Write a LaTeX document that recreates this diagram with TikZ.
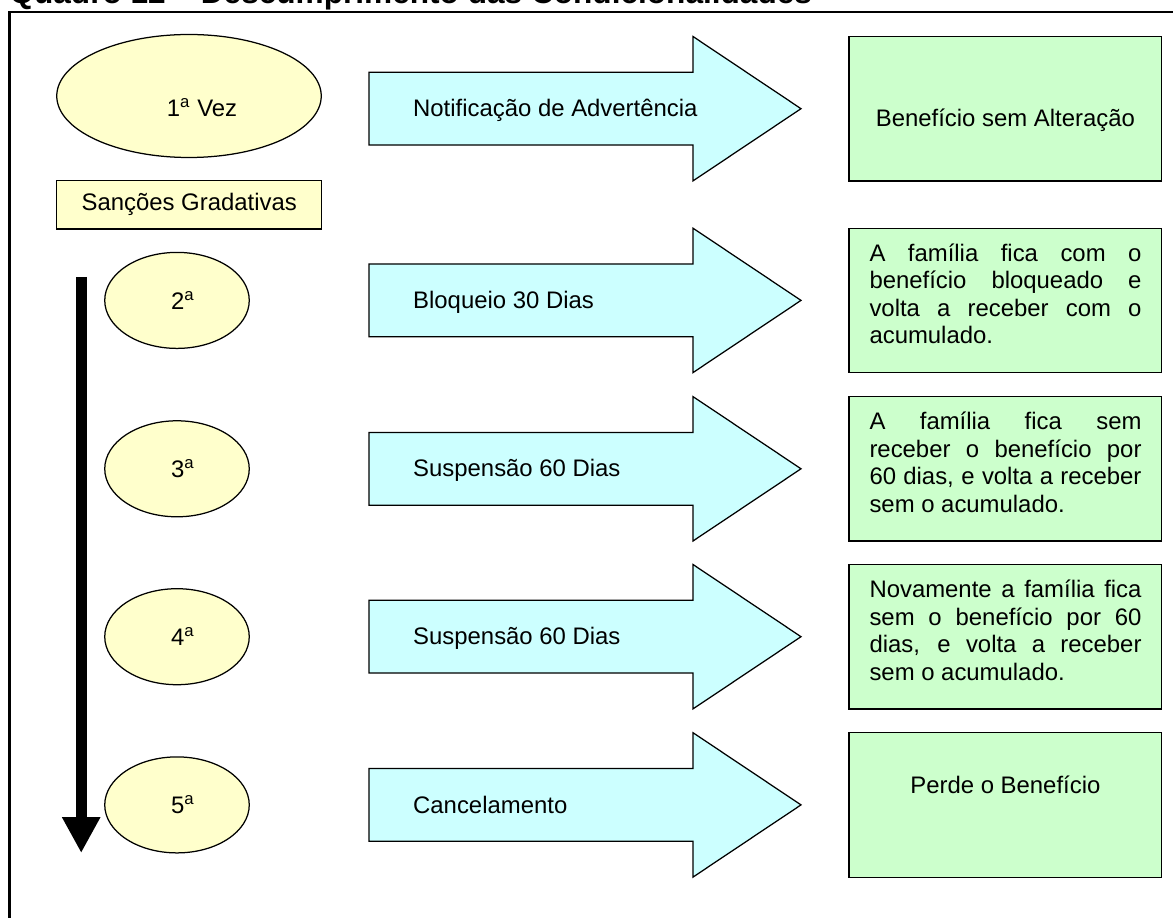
\documentclass[tikz,border=0pt]{standalone}
\usepackage{fontspec}
\setmainfont{Liberation Sans}
\usepackage{xcolor}
\definecolor{Col1}{RGB}{255,255,204}
\definecolor{Col2}{RGB}{204,255,255}
\definecolor{Col3}{RGB}{204,255,204}
\usepackage{tikz}
\usetikzlibrary{shapes.geometric}
\usetikzlibrary{arrows.meta}
\setlength{\parindent}{0pt}
\tolerance=10000
\hbadness=10000
\tikzstyle{Label}=[inner sep=0pt,font=\fontsize{9.56}{11}\selectfont]
\tikzstyle{Oval}=[ellipse,draw=black,fill=Col1,line width=0.5pt,inner sep=0pt]
\tikzstyle{Box}=[rectangle,draw=black,line width=0.5pt,inner sep=0pt]
\tikzstyle{Sign}=[draw=black,fill=Col2,line width=0.5pt,line join=miter]
\tikzstyle{Note}=[Label,text width=108.8pt,align=justify]
\tikzstyle{Frame}=[draw=black,line width=1pt]
\tikzstyle{Title}=[inner sep=0pt,font=\fontsize{12.64}{15}\selectfont\bfseries]
\begin{document}
\begin{tikzpicture}[x=0.4pt,y=-0.4pt]
        \useasboundingbox(0,0)rectangle(1173,918);
        \node[Title,anchor=base west](t)at(9,4){Quadro 12 – Descumprimento das Condicionalidades};
        \draw[Frame](9.7,930)--(9.7,12)--(1185,12);
        % left column
        \node[Oval,minimum width=105.8pt,minimum height=49.2pt,
          label={[Label,xshift=5.2pt,yshift=-4.8pt]center:1\textsuperscript{a} Vez}](o1)at(189,96){};
        \node[Box,fill=Col1,minimum width=106pt,minimum height=19.3pt,Label](s)at(189.2,204.85){Sanções Gradativas};
        \node[Oval,minimum width=57.8pt,minimum height=38.4pt,
          label={[Label,xshift=2.4pt]center:2\textsuperscript{a}}](o2)at(177,300.4){};
        \node[Oval,minimum width=57.8pt,minimum height=38.4pt,
          label={[Label,xshift=2.4pt]center:3\textsuperscript{a}}](o3)at(177,468.8){};
        \node[Oval,minimum width=57.8pt,minimum height=38.4pt,
          label={[Label,xshift=2.4pt]center:4\textsuperscript{a}}](o4)at(177,636.7){};
        \node[Oval,minimum width=57.8pt,minimum height=38.4pt,
          label={[Label,xshift=2.4pt]center:5\textsuperscript{a}}](o5)at(177,804.9){};
        \coordinate(b0)at(81.2,277);
        \coordinate(b1)at(81.2,853);
        \draw[line width=4.4pt,-{Triangle[width=14.4pt,length=14.4pt]}](b0)--(b1);
        % middle column
        \draw[Sign](369,72.3)--(693,72.3)--(693,36.5)--(801,108.7)--(693,180.9)--(693,145.1)--(369,145.1)--cycle;
        \draw[Sign](369,264.0)--(693,264.0)--(693,228.2)--(801,300.4)--(693,372.6)--(693,336.8)--(369,336.8)--cycle;
        \draw[Sign](369,432.4)--(693,432.4)--(693,396.6)--(801,468.8)--(693,541.0)--(693,505.2)--(369,505.2)--cycle;
        \draw[Sign](369,600.3)--(693,600.3)--(693,564.5)--(801,636.7)--(693,708.9)--(693,673.1)--(369,673.1)--cycle;
        \draw[Sign](369,768.5)--(693,768.5)--(693,732.7)--(801,804.9)--(693,877.1)--(693,841.3)--(369,841.3)--cycle;
        \node[Label,anchor=base west](a1)at(412.7,116.9){Notificação de Advertência};
        \node[Label,anchor=base west](a2)at(412.7,308.6){Bloqueio 30 Dias};
        \node[Label,anchor=base west](a3)at(412.7,477.0){Suspensão 60 Dias};
        \node[Label,anchor=base west](a4)at(412.7,644.9){Suspensão 60 Dias};
        \node[Label,anchor=base west](a5)at(412.7,813.1){Cancelamento};
        % right column
        \node[Box,fill=Col3,minimum width=125.1pt,minimum height=57.8pt](g1)at(1005.35,108.7){};
        \node[Box,fill=Col3,minimum width=125.1pt,minimum height=57.8pt](g2)at(1005.35,300.4){};
        \node[Box,fill=Col3,minimum width=125.1pt,minimum height=57.8pt](g3)at(1005.35,468.8){};
        \node[Box,fill=Col3,minimum width=125.1pt,minimum height=57.8pt](g4)at(1005.35,636.7){};
        \node[Box,fill=Col3,minimum width=125.1pt,minimum height=57.8pt](g5)at(1005.35,804.9){};
        \node[Label,anchor=base](n1)at(1005.4,127){Benefício sem Alteração};
        \node[Note,anchor=base west](n2)at(869,261.5){A família fica com o\linebreak
          benefício bloqueado e\linebreak volta a receber com o\linebreak acumulado.};
        \node[Note,anchor=base west](n3)at(869,429.9){A família fica sem\linebreak
          receber o benefício por\linebreak 60 dias, e volta a receber\linebreak sem o acumulado.};
        \node[Note,anchor=base west](n4)at(869,597.5){Novamente a família fica\linebreak
          sem o benefício por 60\linebreak dias, e volta a receber\linebreak sem o acumulado.};
        \node[Label,anchor=base](n5)at(1005.4,793.5){Perde o Benefício};
    \end{tikzpicture}
\end{document}
